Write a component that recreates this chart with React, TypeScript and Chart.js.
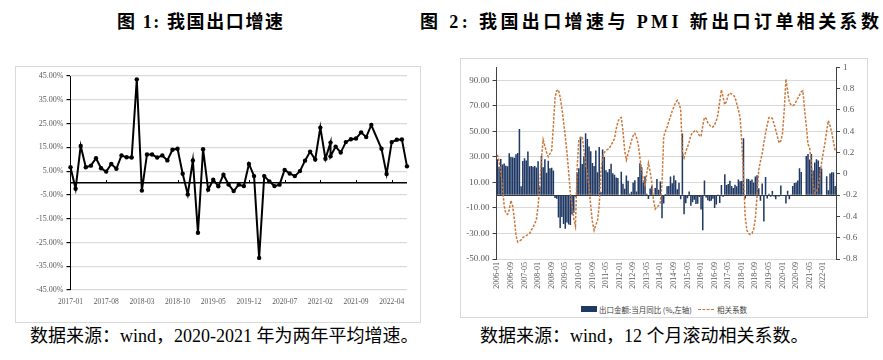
import React, { useEffect, useRef } from 'react';
import { Chart, registerables } from 'chart.js';

Chart.register(...registerables);

function monthSeq(start: string, count: number): string[] {
  const [y0, m0] = start.split('-').map(Number);
  const out: string[] = [];
  for (let k = 0; k < count; k++) {
    const t = m0 - 1 + k;
    out.push(`${y0 + Math.floor(t / 12)}-${String((t % 12) + 1).padStart(2, '0')}`);
  }
  return out;
}

// ---------- Figure 1 data ----------
const fig1Slots = monthSeq('2017-01', 67);
const fig1LabelEvery = 7;
const fig1Points: [string, number][] = [
  ['2017-01', 6.6], ['2017-02', -2.4], ['2017-03', 15.6], ['2017-04', 6.6], ['2017-05', 7.3], ['2017-06', 10.4],
  ['2017-07', 6.2], ['2017-08', 4.8], ['2017-09', 8.0], ['2017-10', 6.0], ['2017-11', 11.6], ['2017-12', 10.8],
  ['2018-01', 10.7], ['2018-02', 43.6], ['2018-03', -3.2], ['2018-04', 12.0], ['2018-05', 12.0], ['2018-06', 10.7],
  ['2018-07', 11.6], ['2018-08', 9.5], ['2018-09', 14.0], ['2018-10', 14.4], ['2018-11', 3.9], ['2018-12', -4.8],
  ['2019-01', 9.5], ['2019-02', -20.9], ['2019-03', 14.2], ['2019-04', -2.8], ['2019-05', 1.4], ['2019-06', -1.4],
  ['2019-07', 3.5], ['2019-08', -0.6], ['2019-09', -3.4], ['2019-10', -0.7], ['2019-11', -1.3], ['2019-12', 8.0],
  ['2020-01', 2.9], ['2020-02', -31.5], ['2020-03', 2.9], ['2020-04', 0.7], ['2020-05', -1.3], ['2020-06', -0.7],
  ['2020-07', 5.5], ['2020-08', 4.0], ['2020-09', 2.9], ['2020-10', 5.0], ['2020-11', 9.4], ['2020-12', 13.2],
  ['2021-01', 9.9], ['2021-02', 23.3], ['2021-03', 10.2], ['2021-04', 17.0], ['2021-04', 11.2], ['2021-05', 15.3],
  ['2021-06', 12.8], ['2021-07', 17.2], ['2021-08', 18.4], ['2021-09', 18.7], ['2021-10', 21.3], ['2021-11', 19.3],
  ['2021-12', 24.4], ['2022-02', 14.4], ['2022-03', 3.8], ['2022-04', 17.2], ['2022-05', 18.2], ['2022-06', 18.3],
  ['2022-07', 7.0],
];
const fig1YTicks = [-45, -35, -25, -15, -5, 5, 15, 25, 35, 45];

// ---------- Figure 2 data ----------
const fig2Months = monthSeq('2006-01', 200);
const fig2LabelEvery = 8;
const exportYoY: (number | null)[] = [
  // 2006
  28.0, 22.2, 28.3, 23.9, 24.8, 23.1, 22.6, 32.8, 29.8, 29.6, 29.2, 32.0,
  // 2007
  33.0, 51.7, 6.9, 26.8, 28.9, 27.1, 34.1, 22.6, 22.8, 22.3, 22.8, 21.7,
  // 2008
  26.6, 6.5, 30.6, 21.8, 28.1, 17.6, 26.9, 21.1, 21.5, 19.2, -2.2, -2.8,
  // 2009
  -17.5, -25.7, -17.1, -22.6, -26.4, -21.4, -23.0, -23.4, -15.2, -13.8, -1.2, 17.7,
  // 2010
  21.0, 45.7, 24.3, 30.5, 48.5, 43.9, 38.1, 34.4, 25.1, 22.9, 34.9, 17.9,
  // 2011
  37.7, 2.4, 35.8, 29.9, 19.4, 17.9, 20.4, 24.5, 17.1, 15.9, 13.8, 13.4,
  // 2012
  -0.5, 18.4, 8.9, 4.9, 15.3, 11.3, 1.0, 2.7, 9.9, 11.6, 2.9, 14.1,
  // 2013
  25.0, 21.8, 10.0, 14.7, 1.0, -3.1, 5.1, 7.2, -0.3, 5.6, 12.7, 4.3,
  // 2014
  10.6, -18.1, -6.6, 0.9, 7.0, 7.2, 14.5, 9.4, 15.3, 11.6, 4.7, 9.7,
  // 2015
  -3.3, 48.3, -15.0, -6.4, -2.5, 2.8, -8.3, -5.5, -3.7, -6.9, -6.8, -1.4,
  // 2016
  -11.2, -27.5, 11.5, -1.8, -4.1, -4.8, -4.4, -2.8, -10.0, -7.3, 0.1, -6.1,
  // 2017
  7.9, -1.3, 16.4, 8.0, 8.7, 11.3, 7.2, 5.5, 8.1, 6.9, 12.3, 10.9,
  // 2018
  11.1, 44.5, -2.7, 12.9, 12.6, 11.3, 12.2, 9.8, 14.5, 15.6, 5.4, -4.4,
  // 2019
  9.1, -20.7, 14.2, -2.7, 1.1, -1.3, 3.3, -1.0, -3.2, -0.9, -1.1, 7.6,
  // 2020
  null, null, -6.6, 3.5, -3.3, 0.5, 7.2, 9.5, 9.9, 11.4, 21.1, 18.1,
  // 2021
  null, null, 30.6, 32.3, 27.9, 32.2, 19.3, 25.6, 28.1, 27.1, 22.0, 20.9,
  // 2022
  null, null, 14.7, 3.9, 16.9, 17.9, 18.0, 7.1,
];
const pmiCorr: number[] = [
  // 2006
  0.18, 0.12, 0.02, -0.12, -0.3, -0.37, -0.38, -0.34, -0.25, -0.3, -0.42, -0.58,
  // 2007
  -0.64, -0.63, -0.62, -0.6, -0.59, -0.58, -0.57, -0.56, -0.53, -0.5, -0.47, -0.43,
  // 2008
  -0.3, -0.1, 0.15, 0.32, 0.26, 0.2, 0.16, 0.19, 0.22, 0.45, 0.72, 0.78,
  // 2009
  0.79, 0.72, 0.62, 0.49, 0.35, 0.2, 0.02, -0.18, -0.3, -0.42, -0.49, 0.05,
  // 2010
  0.32, 0.34, 0.35, 0.22, 0.1, 0.0, -0.12, -0.3, -0.45, -0.53, -0.48, -0.44,
  // 2011
  -0.3, 0.02, 0.15, 0.2, 0.22, 0.23, 0.24, 0.27, 0.3, 0.33, 0.42, 0.49,
  // 2012
  0.52, 0.53, 0.4, 0.22, 0.13, 0.19, 0.25, 0.31, 0.36, 0.38, 0.34, 0.28,
  // 2013
  0.15, 0.04, -0.06, -0.12, 0.0, 0.1, 0.02, -0.08, -0.25, -0.33, -0.31, -0.3,
  // 2014
  -0.27, -0.1, 0.35, 0.4, 0.44, 0.49, 0.54, 0.59, 0.63, 0.67, 0.69, 0.66,
  // 2015
  0.61, 0.2, 0.15, 0.21, 0.25, 0.3, 0.36, 0.39, 0.4, 0.41, 0.39, 0.36,
  // 2016
  0.35, 0.45, 0.53, 0.52, 0.48, 0.46, 0.44, 0.44, 0.46, 0.5, 0.56, 0.68,
  // 2017
  0.79, 0.72, 0.65, 0.68, 0.74, 0.76, 0.75, 0.74, 0.72, 0.66, 0.6, 0.53,
  // 2018
  0.3, -0.02, -0.4, -0.53, -0.56, -0.57, -0.56, -0.52, -0.42, -0.2, 0.04, 0.12,
  // 2019
  0.19, 0.29, 0.38, 0.46, 0.53, 0.53, 0.52, 0.47, 0.41, 0.35, 0.29, 0.31,
  // 2020
  0.38, 0.6, 0.89, 0.78, 0.67, 0.65, 0.64, 0.65, 0.68, 0.71, 0.74, 0.77,
  // 2021
  0.78, 0.6, 0.45, 0.28, 0.24, 0.1, -0.1, -0.18, -0.17, -0.12, -0.02, 0.1,
  // 2022
  0.2, 0.29, 0.4, 0.5, 0.45, 0.39, 0.3, 0.22,
];
const fig2LeftTicks = [-50, -30, -10, 10, 30, 50, 70, 90];
const fig2RightTicks = [-0.8, -0.6, -0.4, -0.2, 0, 0.2, 0.4, 0.6, 0.8, 1];

const SERIF = '"Liberation Serif", "Times New Roman", "Noto Sans CJK SC", serif';
const SANS = '"Noto Sans CJK SC", "Noto Sans", sans-serif';
const TICK_COLOR = '#595959';
const NAVY = '#1F3864';
const CORR_COLOR = '#C8773A';

// small tick marks on the zero line of figure 1, at the labelled categories
const zeroLineTicks = {
  id: 'zeroLineTicks',
  afterDatasetsDraw(chart: any) {
    const xs = chart.scales.x;
    const ys = chart.scales.y;
    const y0 = ys.getPixelForValue(0);
    const ctx = chart.ctx;
    ctx.save();
    ctx.strokeStyle = '#000';
    ctx.lineWidth = 1;
    for (let i = fig1LabelEvery; i < fig1Slots.length; i += fig1LabelEvery) {
      const x = Math.round(xs.getPixelForValue(i)) + 0.5;
      ctx.beginPath();
      ctx.moveTo(x, y0);
      ctx.lineTo(x, y0 - 3);
      ctx.stroke();
    }
    ctx.restore();
  },
};

function Figure1() {
  const ref = useRef<HTMLCanvasElement | null>(null);
  useEffect(() => {
    if (!ref.current) return;
    const chart = new Chart(ref.current, {
      type: 'line',
      data: {
        labels: fig1Slots,
        datasets: [
          {
            data: fig1Points.map(([m, v]) => ({ x: m, y: v })) as any,
            borderColor: '#000',
            borderWidth: 2,
            pointRadius: 2.2,
            pointBackgroundColor: '#000',
            pointBorderWidth: 0,
            tension: 0,
          },
        ],
      },
      options: {
        animation: false,
        responsive: false,
        maintainAspectRatio: false,
        layout: { padding: { top: 9, right: 13, left: 0, bottom: 0 } },
        plugins: { legend: { display: false }, tooltip: { enabled: false } },
        scales: {
          x: {
            type: 'category',
            offset: false,
            grid: { display: false, drawTicks: false },
            border: { display: false },
            ticks: {
              autoSkip: false,
              maxRotation: 0,
              minRotation: 0,
              padding: 8,
              color: TICK_COLOR,
              font: { family: SERIF, size: 7.5 },
              callback: (_v: any, i: number) => (i % fig1LabelEvery === 0 ? fig1Slots[i] : ''),
            },
            afterFit: (s: any) => {
              s.height = 32;
            },
          },
          y: {
            min: -45,
            max: 45,
            afterBuildTicks: (s: any) => {
              s.ticks = [...fig1YTicks, 0].sort((a, b) => a - b).map((v) => ({ value: v }));
            },
            grid: {
              color: (c: any) => (c.tick && c.tick.value === 0 ? '#000' : '#d9d9d9'),
              lineWidth: (c: any) => (c.tick && c.tick.value === 0 ? 1.6 : 1.2),
              tickColor: (c: any) => (c.tick && c.tick.value === 0 ? 'rgba(0,0,0,0)' : '#000'),
              tickLength: 4,
            },
            border: { color: '#000', width: 1 },
            ticks: {
              color: TICK_COLOR,
              padding: 3,
              font: { family: SERIF, size: 8 },
              callback: (v: any) => (Number(v) === 0 ? '' : `${Number(v).toFixed(2)}%`),
            },
            afterFit: (s: any) => {
              s.width = 54.5;
            },
          },
        },
      },
      plugins: [zeroLineTicks],
    });
    return () => chart.destroy();
  }, []);
  return <canvas ref={ref} width={404} height={255} style={{ position: 'absolute', left: 0, top: 0 }} />;
}

function Figure2() {
  const ref = useRef<HTMLCanvasElement | null>(null);
  useEffect(() => {
    if (!ref.current) return;
    const chart = new Chart(ref.current, {
      type: 'bar',
      data: {
        labels: fig2Months,
        datasets: [
          {
            type: 'line',
            label: '相关系数',
            data: pmiCorr,
            yAxisID: 'y1',
            borderColor: CORR_COLOR,
            borderWidth: 1.5,
            borderDash: [2.5, 1.5],
            pointRadius: 0,
            tension: 0,
            order: 0,
          } as any,
          {
            type: 'bar',
            label: '出口金额:当月同比 (%,左轴)',
            data: exportYoY,
            yAxisID: 'y',
            backgroundColor: NAVY,
            barPercentage: 0.9,
            categoryPercentage: 1,
            order: 1,
          } as any,
        ],
      },
      options: {
        animation: false,
        responsive: false,
        maintainAspectRatio: false,
        layout: { padding: { top: 8, right: 0, left: 0, bottom: 0 } },
        plugins: { legend: { display: false }, tooltip: { enabled: false } },
        scales: {
          x: {
            type: 'category',
            offset: true,
            grid: { display: false, drawTicks: false },
            border: { display: false },
            ticks: {
              autoSkip: false,
              maxRotation: 90,
              minRotation: 90,
              padding: 3,
              color: TICK_COLOR,
              font: { family: SERIF, size: 8 },
              callback: (_v: any, i: number) => (i % fig2LabelEvery === 0 ? fig2Months[i] : ''),
            },
            afterFit: (s: any) => {
              s.height = 40;
            },
          },
          y: {
            position: 'left',
            min: -50,
            max: 100,
            afterBuildTicks: (s: any) => {
              s.ticks = [...fig2LeftTicks, 0].sort((a, b) => a - b).map((v) => ({ value: v }));
            },
            grid: {
              color: (c: any) => (c.tick && c.tick.value === 0 ? '#3a3a3a' : '#d9d9d9'),
              lineWidth: 1,
              tickColor: (c: any) => (c.tick && c.tick.value === 0 ? 'rgba(0,0,0,0)' : '#404040'),
              tickLength: 4,
            },
            border: { color: '#404040', width: 1 },
            ticks: {
              color: TICK_COLOR,
              padding: 3,
              font: { family: SERIF, size: 9 },
              callback: (v: any) => (Number(v) === 0 ? '' : Number(v).toFixed(2)),
            },
            afterFit: (s: any) => {
              s.width = 35.5;
            },
          },
          y1: {
            position: 'right',
            min: -0.8,
            max: 1,
            afterBuildTicks: (s: any) => {
              s.ticks = fig2RightTicks.map((v) => ({ value: v }));
            },
            grid: { drawOnChartArea: false, color: '#404040', tickLength: 4 },
            border: { color: '#404040', width: 1 },
            ticks: {
              color: TICK_COLOR,
              padding: 3,
              font: { family: SERIF, size: 9 },
              callback: (v: any) => String(Number(Number(v).toFixed(1))),
            },
            afterFit: (s: any) => {
              s.width = 31;
            },
          },
        },
      },
    });
    return () => chart.destroy();
  }, []);
  return <canvas ref={ref} width={406} height={240} style={{ position: 'absolute', left: 0, top: 0 }} />;
}

export default function App() {
  return (
    <div
      style={{
        position: 'absolute',
        left: 0,
        top: 0,
        width: 883,
        height: 360,
        background: '#fff',
        overflow: 'hidden',
        fontFamily: SERIF,
        color: '#000',
      }}
    >
      <div
        style={{
          position: 'absolute',
          left: 117,
          top: 12,
          fontSize: 18,
          lineHeight: '20px',
          fontWeight: 'bold',
          letterSpacing: 1.6,
          whiteSpace: 'nowrap',
        }}
      >
        图 1: 我国出口增速
      </div>
      <div
        style={{
          position: 'absolute',
          left: 420,
          top: 12,
          fontSize: 18,
          lineHeight: '20px',
          fontWeight: 'bold',
          letterSpacing: 3.4,
          whiteSpace: 'nowrap',
        }}
      >
        图 2: 我国出口增速与 PMI 新出口订单相关系数
      </div>

      <div
        style={{
          position: 'absolute',
          left: 15,
          top: 66,
          width: 404,
          height: 255,
          border: '1px solid #d9d9d9',
        }}
      >
        <Figure1 />
      </div>

      <div
        style={{
          position: 'absolute',
          left: 460,
          top: 58,
          width: 406,
          height: 258,
          border: '1px solid #d9d9d9',
        }}
      >
        <Figure2 />
        <div
          style={{
            position: 'absolute',
            left: 0,
            top: 244,
            width: 406,
            height: 12,
            display: 'flex',
            alignItems: 'center',
            justifyContent: 'center',
            fontFamily: SANS,
            fontSize: 7.5,
            color: '#404040',
            whiteSpace: 'nowrap',
          }}
        >
          <span style={{ display: 'inline-block', width: 16, height: 6, background: NAVY, marginRight: 2 }} />
          <span>出口金额:当月同比 (%,左轴)</span>
          <span
            style={{
              display: 'inline-block',
              width: 16,
              height: 0,
              borderTop: `1.5px dashed ${CORR_COLOR}`,
              marginLeft: 6,
              marginRight: 3,
            }}
          />
          <span>相关系数</span>
        </div>
      </div>

      <div
        style={{
          position: 'absolute',
          left: 30,
          top: 325,
          fontSize: 18,
          lineHeight: '22px',
          whiteSpace: 'nowrap',
        }}
      >
        数据来源：wind，2020-2021 年为两年平均增速。
      </div>
      <div
        style={{
          position: 'absolute',
          left: 480,
          top: 325,
          fontSize: 18,
          lineHeight: '22px',
          whiteSpace: 'nowrap',
        }}
      >
        数据来源：wind，12 个月滚动相关系数。
      </div>
    </div>
  );
}
